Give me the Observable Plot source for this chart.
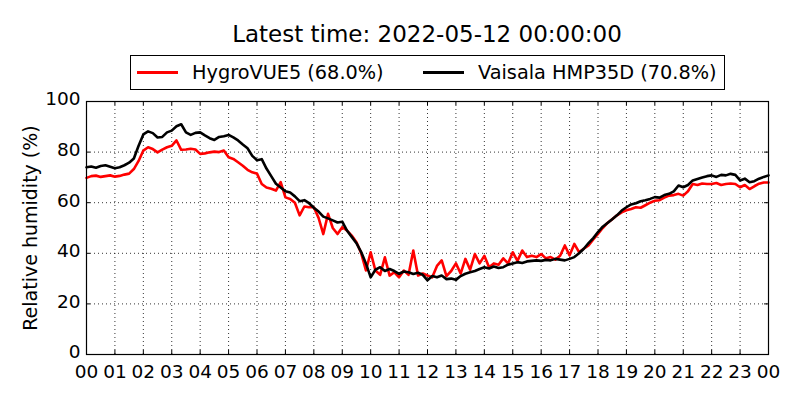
<!DOCTYPE html>
<html>
<head>
<meta charset="utf-8">
<script src="https://cdn.jsdelivr.net/npm/d3@7"></script>
<script src="https://cdn.jsdelivr.net/npm/@observablehq/plot@0.6"></script>
<style>
  body { margin: 0; background: #fff; font-family: "DejaVu Sans", sans-serif; }
  #wrap { position: relative; width: 800px; height: 400px; }
  #title { position: absolute; left: 86px; width: 682px; top: 19px; text-align: center; font-size: 23px; line-height: 30px; color: #000; }
  #legend { position: absolute; left: 130px; top: 55px; width: 593px; height: 33px; border: 1px solid #000; background: #fff; }
  .lline { position: absolute; top: 15px; height: 3px; width: 41px; }
  .ltext { position: absolute; top: 3px; font-size: 19.3px; line-height: 28px; color: #000; white-space: nowrap; }
  #chart { position: absolute; left: 0; top: 0; }
</style>
</head>
<body>
<div id="wrap">
  <div id="chart"></div>
  <div id="title"></div>
  <div id="legend"></div>
</div>
<script>
const titleText = "Latest time: 2022-05-12 00:00:00";
const seriesNames = ["HygroVUE5 (68.0%)", "Vaisala HMP35D (70.8%)"];
const seriesColors = ["#ff0000", "#000000"];
const hourLabels = ["00","01","02","03","04","05","06","07","08","09","10","11","12",
                    "13","14","15","16","17","18","19","20","21","22","23","00"];
const yTicks = [0, 20, 40, 60, 80, 100];
const yLabel = "Relative humidity (%)";
// values every 10 minutes from 00:00 to 24:00
const hygroVUE5 = [
  69.8, 70.5, 70.7, 70.2, 70.5, 70.8,
  70.3, 70.6, 71.1, 71.5, 73.3, 76.5,
  80.6, 81.9, 81.2, 79.9, 81.0, 81.9,
  82.5, 84.6, 80.9, 81.0, 81.3, 81.0,
  79.3, 79.5, 79.9, 80.2, 80.0, 80.6,
  78.0, 77.3, 76.0, 74.6, 73.0, 72.0,
  71.5, 67.4, 66.0, 65.5, 64.8, 68.1,
  62.1, 61.5, 60.0, 55.0, 58.5, 58.2,
  58.2, 54.0, 47.6, 55.6, 50.0, 47.6,
  50.3, 49.0, 47.0, 44.4, 40.0, 33.2,
  40.4, 33.2, 31.5, 38.4, 31.2, 32.5,
  30.5, 33.2, 31.5, 41.1, 31.2, 32.0,
  31.2, 30.5, 35.0, 37.2, 31.0, 33.0,
  36.0, 32.0, 37.8, 33.5, 39.7, 36.0,
  39.0, 34.5, 36.0, 35.5, 38.0, 36.0,
  40.4, 37.0, 41.1, 38.5, 39.0, 38.5,
  39.7, 38.0, 38.5, 37.5, 39.0, 43.1,
  39.2, 43.7, 40.5, 41.8, 43.1, 45.5,
  47.7, 50.0, 52.0, 53.5, 55.0, 56.2,
  57.0, 57.5, 58.2, 58.0, 59.0, 60.0,
  60.8, 61.0, 62.0, 62.8, 63.0, 63.5,
  62.8, 64.5, 67.4, 67.0, 67.6, 67.4,
  67.4, 67.8, 67.0, 67.4, 67.6, 67.4,
  66.1, 67.0, 65.4, 66.5, 67.5, 68.0,
  68.0
];
const vaisalaHMP35D = [
  74.0, 74.3, 73.8, 74.5, 74.8, 74.2,
  73.6, 74.0, 74.8, 75.8, 77.5, 82.5,
  87.0, 88.2, 87.5, 85.8, 86.0, 87.8,
  88.5, 90.2, 91.0, 87.8, 86.8, 87.6,
  87.8, 86.6, 85.5, 84.8, 86.0, 86.3,
  86.8, 85.8, 84.6, 83.0, 81.5, 78.5,
  76.8, 77.2, 73.5, 70.5, 67.5, 66.0,
  64.5, 64.0, 62.5, 60.6, 61.0, 59.8,
  58.0, 56.5, 54.5, 53.8, 53.0, 52.2,
  52.5, 49.0, 46.5, 44.0, 40.5, 36.0,
  30.5, 33.5, 34.5, 33.0, 33.8, 33.0,
  31.9, 32.8, 32.5, 31.8, 32.3, 31.5,
  29.3, 31.0, 30.5, 31.2, 29.8, 30.0,
  29.5, 31.0, 31.9, 32.5, 33.0, 33.8,
  34.5, 34.0, 34.8, 34.2, 34.5, 35.5,
  36.0, 36.5, 36.2, 36.8, 37.0, 37.2,
  37.0, 37.4, 37.2, 37.8, 37.5, 37.2,
  37.8, 38.5, 40.0, 41.8, 44.0, 46.0,
  48.4, 50.5, 52.0, 53.5, 55.0, 56.9,
  58.2, 59.3, 59.8, 60.6, 61.0, 61.5,
  62.2, 62.0, 63.0, 63.5, 64.5, 66.8,
  66.1, 67.0, 68.8, 69.4, 70.0, 70.5,
  70.8, 70.2, 71.0, 70.8, 71.4, 71.0,
  68.8, 69.5, 68.1, 68.5, 69.5, 70.2,
  70.8
];

const allSeries = [hygroVUE5, vaisalaHMP35D];
const rows = [];
allSeries.forEach((vals, s) => {
  vals.forEach((v, i) => rows.push({series: s, hour: i / 6, value: v}));
});

const hourTicks = hourLabels.map((_, i) => i);
const gridStyle = { stroke: "#000", strokeOpacity: 1, strokeWidth: 0.8, strokeDasharray: "1,3" };
const tickStyle = { stroke: "#000", strokeWidth: 1 };

const chart = Plot.plot({
  width: 800,
  height: 400,
  marginLeft: 86,
  marginRight: 32,
  marginTop: 101,
  marginBottom: 46,
  style: { fontFamily: "DejaVu Sans", fontSize: "18.5px", color: "#000", background: "#fff", overflow: "visible" },
  x: { domain: [0, 24] },
  y: { domain: [0, 100] },
  marks: [
    Plot.gridX(hourTicks, gridStyle),
    Plot.gridY(yTicks, gridStyle),
    // inward tick marks on all four sides
    Plot.ruleX(hourTicks, { y1: 0, y2: 1.6, ...tickStyle }),
    Plot.ruleX(hourTicks, { y1: 98.4, y2: 100, ...tickStyle }),
    Plot.ruleY(yTicks, { x1: 0, x2: 0.14, ...tickStyle }),
    Plot.ruleY(yTicks, { x1: 23.86, x2: 24, ...tickStyle }),
    Plot.axisX({ ticks: hourTicks, tickFormat: i => hourLabels[i], tickSize: 0, tickPadding: 10, label: null, fontSize: 18.5 }),
    Plot.axisY({ ticks: yTicks, tickSize: 0, tickPadding: 6, label: null, fontSize: 18.5, dy: -2 }),
    Plot.line(rows.filter(d => d.series === 0), { x: "hour", y: "value", stroke: seriesColors[0], strokeWidth: 2.6 }),
    Plot.line(rows.filter(d => d.series === 1), { x: "hour", y: "value", stroke: seriesColors[1], strokeWidth: 2.6 }),
    Plot.text([yLabel], { frameAnchor: "left", textAnchor: "middle", dx: -56, rotate: -90, fontSize: 19, fill: "#000" }),
    Plot.frame({ stroke: "#000", strokeWidth: 1.2 })
  ]
});
document.getElementById("chart").appendChild(chart);
document.getElementById("title").textContent = titleText;

const legend = document.getElementById("legend");
const lineLefts = [6, 292];
const textLefts = [61, 347];
seriesNames.forEach((name, i) => {
  const ln = document.createElement("div");
  ln.className = "lline";
  ln.style.left = lineLefts[i] + "px";
  ln.style.background = seriesColors[i];
  legend.appendChild(ln);
  const tx = document.createElement("div");
  tx.className = "ltext";
  tx.style.left = textLefts[i] + "px";
  tx.textContent = name;
  legend.appendChild(tx);
});
</script>
</body>
</html>
